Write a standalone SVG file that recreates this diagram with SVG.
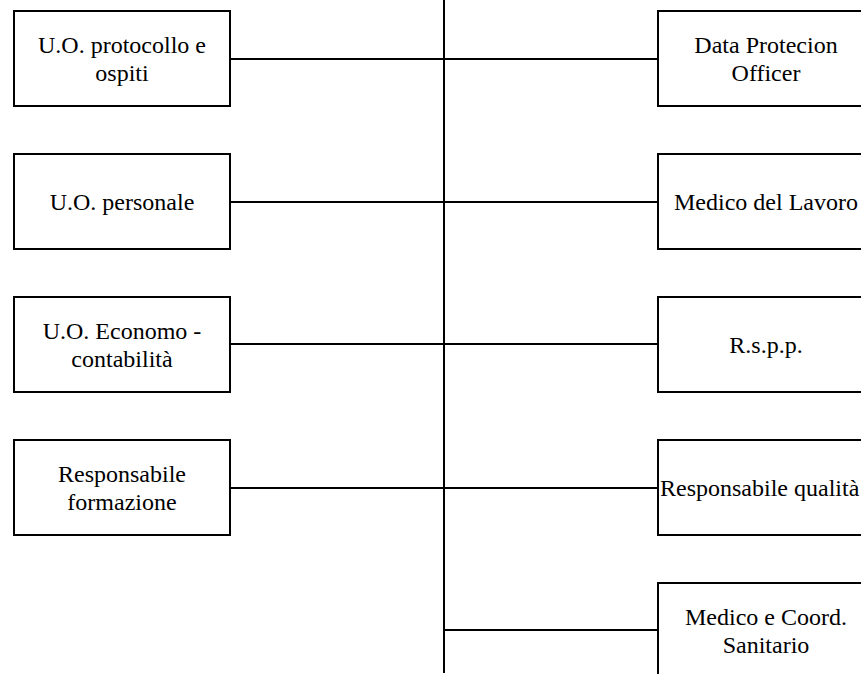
<svg xmlns="http://www.w3.org/2000/svg" width="861" height="674" viewBox="0 0 861 674">
<style>
rect.box{fill:#fff;stroke:#000;stroke-width:2}
line{stroke:#000;stroke-width:2}
text{font-family:"Liberation Serif","Times New Roman",serif;font-size:24px;fill:#000;text-anchor:middle}
text.start{text-anchor:start}
</style>
<rect width="861" height="674" fill="#fff"/>
<g id="connectors">
<line x1="444" y1="0" x2="444" y2="673"/>
<line x1="230" y1="59" x2="658" y2="59"/>
<line x1="230" y1="202" x2="658" y2="202"/>
<line x1="230" y1="344" x2="658" y2="344"/>
<line x1="230" y1="488" x2="658" y2="488"/>
<line x1="444" y1="630" x2="658" y2="630"/>
</g>
<g id="uo-protocollo">
<rect class="box" x="14" y="11" width="216" height="95"/>
<text x="122" y="52.5">U.O. protocollo e</text>
<text x="122" y="80.5">ospiti</text>
</g>
<g id="uo-personale">
<rect class="box" x="14" y="154" width="216" height="95"/>
<text x="122" y="209.5">U.O. personale</text>
</g>
<g id="uo-economo">
<rect class="box" x="14" y="297" width="216" height="95"/>
<text x="122" y="338.5">U.O. Economo -</text>
<text x="122" y="366.5">contabilità</text>
</g>
<g id="resp-formazione">
<rect class="box" x="14" y="440" width="216" height="95"/>
<text x="122" y="481.5">Responsabile</text>
<text x="122" y="509.5">formazione</text>
</g>
<g id="dpo">
<rect class="box" x="658" y="11" width="216" height="95"/>
<text x="766" y="52.5">Data Protecion</text>
<text x="766" y="80.5">Officer</text>
</g>
<g id="medico-lavoro">
<rect class="box" x="658" y="154" width="216" height="95"/>
<text x="766" y="209.5">Medico del Lavoro</text>
</g>
<g id="rspp">
<rect class="box" x="658" y="297" width="216" height="95"/>
<text x="766" y="352.5">R.s.p.p.</text>
</g>
<g id="resp-qualita">
<rect class="box" x="658" y="440" width="216" height="95"/>
<text class="start" x="660" y="495.5">Responsabile qualità</text>
</g>
<g id="medico-coord">
<rect class="box" x="658" y="583" width="216" height="95"/>
<text x="766" y="624.5">Medico e Coord.</text>
<text x="766" y="652.5">Sanitario</text>
</g>
</svg>
